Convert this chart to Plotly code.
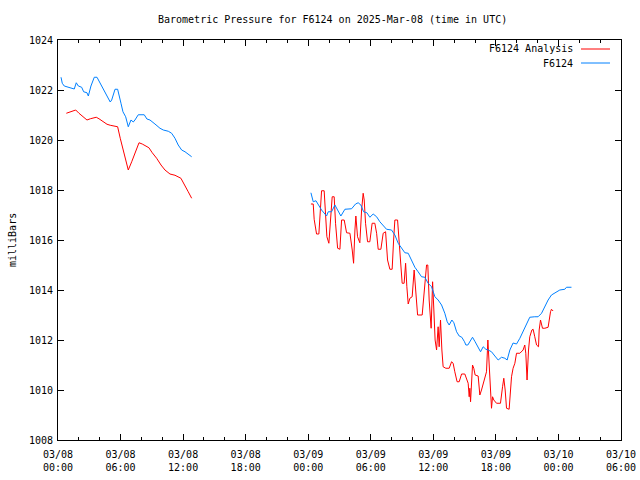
import plotly.graph_objects as go

# hours since 2025-03-08 00:00 UTC
obs_t1 = [0.29, 0.41, 0.60, 0.99, 1.37, 1.56, 1.75, 1.95, 2.27, 2.46, 2.78, 2.91, 3.16, 3.48, 3.74,
          4.06, 4.44, 4.77, 5.01, 5.15, 5.47, 5.72, 5.85, 6.04, 6.23, 6.49, 6.74, 7.00, 7.22, 7.38,
          7.70, 8.27, 8.53, 8.82, 9.30, 9.78, 10.10, 10.58, 10.90, 11.22, 11.53, 11.86, 12.18, 12.49, 12.82]
obs_p1 = [1022.51, 1022.27, 1022.16, 1022.11, 1022.04, 1022.04, 1022.29, 1022.16, 1022.11, 1021.93,
          1021.89, 1021.76, 1022.16, 1022.51, 1022.51, 1022.27, 1022.00, 1021.76, 1021.52, 1021.60,
          1022.03, 1022.03, 1021.84, 1021.47, 1021.13, 1020.93, 1020.53, 1020.80, 1020.72, 1020.80,
          1021.01, 1021.01, 1020.84, 1020.80, 1020.64, 1020.47, 1020.40, 1020.35, 1020.27, 1020.07,
          1019.80, 1019.60, 1019.53, 1019.44, 1019.33]

obs_t2 = [24.26, 24.48, 24.74, 24.96, 25.28, 25.76, 25.92, 26.24, 26.56, 26.82, 27.13, 27.52, 28.16,
          28.54, 28.79, 29.05, 29.31, 29.63, 29.91, 30.23, 30.56, 30.87, 31.19, 31.51, 31.99, 32.31,
          32.63, 32.95, 33.27, 33.59, 33.91, 34.23, 34.54, 34.87, 35.19, 35.50, 35.83, 36.15, 36.46,
          36.79, 37.10, 37.33, 37.52, 37.78, 37.97, 38.23, 38.48, 38.73, 38.99, 39.12, 39.31, 39.57,
          39.76, 40.01, 40.34, 40.53, 40.78, 41.04, 41.26, 41.58, 41.90, 42.22, 42.54, 42.86, 43.08,
          43.34, 43.65, 43.98, 44.30, 44.61, 44.94, 45.25, 45.73, 46.05, 46.38, 46.69, 47.01, 47.33,
          47.65, 48.13, 48.61, 48.77, 49.25]
obs_p2 = [1017.89, 1017.53, 1017.57, 1017.40, 1017.20, 1016.96, 1017.13, 1017.13, 1017.40, 1017.20,
          1016.96, 1017.23, 1017.25, 1017.44, 1017.49, 1017.40, 1017.13, 1017.09, 1016.91, 1017.04,
          1016.93, 1016.73, 1016.60, 1016.43, 1016.40, 1016.20, 1015.87, 1015.67, 1015.49, 1015.47,
          1015.20, 1014.91, 1014.73, 1014.53, 1014.51, 1014.27, 1014.13, 1013.73, 1013.60, 1013.40,
          1013.07, 1012.73, 1012.60, 1012.80, 1012.69, 1012.33, 1012.16, 1012.11, 1011.93, 1011.80,
          1011.80, 1012.00, 1012.11, 1011.93, 1011.71, 1011.53, 1011.73, 1011.63, 1011.60, 1011.53,
          1011.36, 1011.20, 1011.31, 1011.27, 1011.20, 1011.60, 1011.88, 1011.84, 1012.07, 1012.33,
          1012.60, 1012.91, 1012.93, 1012.93, 1013.07, 1013.33, 1013.60, 1013.80, 1013.89, 1014.00,
          1014.03, 1014.11, 1014.11]

ana_t1 = [0.80, 1.12, 1.51, 1.70, 2.01, 2.40, 2.78, 3.10, 3.42, 3.67, 3.93, 4.38, 4.70, 5.01, 5.40,
          5.72, 5.97, 6.23, 6.49, 6.74, 7.07, 7.38, 7.77, 8.08, 8.41, 8.72, 9.04, 9.46, 9.88, 10.26,
          10.74, 11.22, 11.79, 12.11, 12.49, 12.82]
ana_p1 = [1021.07, 1021.12, 1021.17, 1021.20, 1021.07, 1020.93, 1020.80, 1020.85, 1020.87, 1020.91,
          1020.85, 1020.73, 1020.63, 1020.59, 1020.56, 1020.53, 1020.07, 1019.60, 1019.13, 1018.80,
          1019.13, 1019.49, 1019.89, 1019.84, 1019.76, 1019.69, 1019.49, 1019.27, 1019.00, 1018.80,
          1018.64, 1018.59, 1018.47, 1018.20, 1017.93, 1017.67]

ana_t2 = [24.26, 24.48, 24.57, 24.80, 25.02, 25.12, 25.28, 25.53, 25.67, 25.79, 25.98, 26.17, 26.30,
          26.49, 26.62, 26.82, 27.04, 27.20, 27.45, 27.68, 28.00, 28.22, 28.35, 28.48, 28.57, 28.73,
          28.95, 29.12, 29.27, 29.37, 29.50, 29.69, 29.91, 30.13, 30.39, 30.56, 30.71, 30.97, 31.19,
          31.42, 31.61, 31.83, 32.05, 32.19, 32.31, 32.57, 32.69, 32.89, 33.01, 33.20, 33.34, 33.46,
          33.59, 33.75, 33.97, 34.16, 34.30, 34.49, 34.93, 35.16, 35.35, 35.47, 35.60, 35.79, 35.93,
          36.05, 36.17, 36.31, 36.46, 36.56, 36.69, 36.82, 36.94, 37.20, 37.52, 37.75, 37.90, 38.06,
          38.28, 38.48, 38.71, 39.02, 39.34, 39.44, 39.50, 39.57, 39.66, 39.76, 39.88, 40.01, 40.30,
          40.46, 40.62, 40.78, 41.10, 41.23, 41.32, 41.42, 41.51, 41.58, 41.68, 41.80, 42.06, 42.44,
          42.64, 42.76, 42.89, 43.02, 43.27, 43.40, 43.50, 43.65, 43.82, 43.98, 44.30, 44.61, 44.77,
          44.87, 44.99, 45.13, 45.25, 45.45, 45.57, 45.73, 45.90, 46.09, 46.15, 46.28, 46.47, 46.69,
          47.01, 47.24, 47.33, 47.49]
ana_p2 = [1017.44, 1017.44, 1016.83, 1016.24, 1016.24, 1016.93, 1017.97, 1017.97, 1017.07, 1016.13,
          1015.87, 1017.07, 1017.73, 1017.73, 1016.67, 1015.67, 1015.63, 1016.80, 1016.80, 1016.29,
          1016.27, 1015.60, 1015.07, 1016.40, 1016.96, 1016.13, 1015.89, 1017.20, 1017.87, 1017.60,
          1016.67, 1015.93, 1015.93, 1016.67, 1016.67, 1016.27, 1015.63, 1015.63, 1016.27, 1016.33,
          1015.20, 1014.83, 1014.83, 1016.00, 1016.80, 1016.80, 1016.13, 1014.87, 1014.27, 1014.27,
          1015.07, 1014.13, 1013.44, 1013.67, 1013.73, 1014.80, 1014.13, 1013.00, 1013.00, 1014.27,
          1015.00, 1015.00, 1013.60, 1012.47, 1014.33, 1013.20, 1012.00, 1011.60, 1012.53, 1011.73,
          1012.80, 1011.60, 1010.93, 1010.87, 1010.87, 1011.13, 1011.07, 1010.73, 1010.33, 1010.33,
          1010.64, 1010.64, 1010.27, 1009.73, 1010.07, 1009.53, 1010.40, 1011.00, 1010.87, 1010.60,
          1010.56, 1009.80, 1010.00, 1010.27, 1010.73, 1012.00, 1011.33, 1010.60, 1009.73, 1009.27,
          1009.73, 1009.60, 1009.47, 1009.47, 1010.13, 1010.47, 1010.00, 1009.27, 1009.23, 1010.00,
          1010.53, 1010.87, 1011.07, 1011.47, 1011.47, 1011.60, 1011.80, 1011.47, 1010.40, 1011.60,
          1012.13, 1012.40, 1012.43, 1012.13, 1011.80, 1011.73, 1012.40, 1012.80, 1012.47, 1012.47,
          1012.51, 1013.13, 1013.23, 1013.16]

x_tickvals = [0, 6, 12, 18, 24, 30, 36, 42, 48, 54]
x_ticktext = ["03/08<br>00:00", "03/08<br>06:00", "03/08<br>12:00", "03/08<br>18:00",
              "03/09<br>00:00", "03/09<br>06:00", "03/09<br>12:00", "03/09<br>18:00",
              "03/10<br>00:00", "03/10<br>06:00"]
y_tickvals = [1008, 1010, 1012, 1014, 1016, 1018, 1020, 1022, 1024]

series_names = ["F6124 Analysis", "F6124"]
RED = "#ff0000"
BLUE = "#0080ff"
FONT = "DejaVu Sans Mono"

fig = go.Figure()
fig.add_trace(go.Scatter(x=ana_t1 + [None] + ana_t2, y=ana_p1 + [None] + ana_p2,
                         mode="lines", line=dict(color=RED, width=1), name=series_names[0],
                         showlegend=False))
fig.add_trace(go.Scatter(x=obs_t1 + [None] + obs_t2, y=obs_p1 + [None] + obs_p2,
                         mode="lines", line=dict(color=BLUE, width=1), name=series_names[1],
                         showlegend=False))

# gnuplot-style legend (text left of line sample)
for i, (name, col) in enumerate(zip(series_names, [RED, BLUE])):
    yy = 1 - (9 + 14 * i) / 400
    fig.add_annotation(x=(575 - 58) / 563, y=yy, xref="paper", yref="paper", text=name,
                       showarrow=False, xanchor="right", yanchor="middle",
                       font=dict(family=FONT, size=10, color="black"))
    fig.add_shape(type="line", xref="paper", yref="paper",
                  x0=(581 - 58) / 563, x1=(610 - 58) / 563, y0=yy, y1=yy,
                  line=dict(color=col, width=1))

fig.add_annotation(x=(332 - 58) / 563, y=1 + 20 / 400, xref="paper", yref="paper",
                   text="Barometric Pressure for F6124 on 2025-Mar-08 (time in UTC)",
                   showarrow=False, xanchor="center", yanchor="middle",
                   font=dict(family=FONT, size=10, color="black"))
fig.add_annotation(x=-46 / 563, y=0.5, xref="paper", yref="paper", text="milliBars",
                   showarrow=False, textangle=-90, xanchor="center", yanchor="middle",
                   font=dict(family=FONT, size=10, color="black"))

fig.update_layout(
    width=640, height=480,
    margin=dict(l=58, r=19, t=40, b=40),
    paper_bgcolor="white", plot_bgcolor="white",
    font=dict(family=FONT, size=10, color="black"),
    showlegend=False,
)
fig.update_xaxes(range=[0, 54], tickvals=x_tickvals, ticktext=x_ticktext,
                 ticks="inside", ticklen=6, tickcolor="black", mirror="allticks",
                 showline=True, linecolor="black", linewidth=1, showgrid=False, zeroline=False,
                 automargin=False, ticklabelstandoff=5,
                 minor=dict(dtick=2, tick0=0, ticks="inside", ticklen=3, tickcolor="black"),
                 tickfont=dict(family=FONT, size=10))
fig.update_yaxes(range=[1008, 1024], tickvals=y_tickvals, ticks="inside", ticklen=6,
                 tickcolor="black", mirror="allticks", showline=True, linecolor="black",
                 linewidth=1, showgrid=False, zeroline=False, automargin=False,
                 ticklabelstandoff=2,
                 tickfont=dict(family=FONT, size=10))

fig.write_html("out.html", config={"displayModeBar": False},
               post_script="document.body.style.margin='0';document.body.style.overflow='hidden';")
